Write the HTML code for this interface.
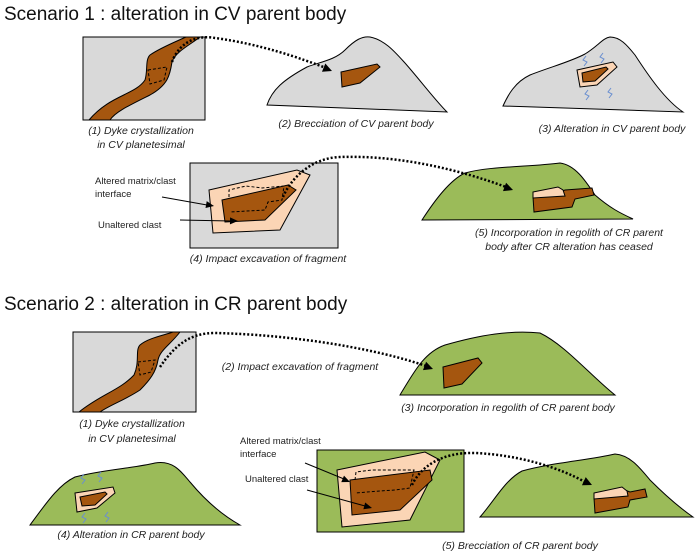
<!DOCTYPE html>
<html><head><meta charset="utf-8"><style>
html,body{margin:0;padding:0;background:#fff;}
svg{display:block;}
text{font-family:"Liberation Sans",sans-serif;}
.cap{font-style:italic;font-size:10.5px;fill:#222;}
.lab{font-size:9.5px;fill:#222;}
.t{font-size:19px;fill:#111;}
</style></head><body>
<svg width="698" height="555" viewBox="0 0 698 555" xmlns="http://www.w3.org/2000/svg">
<g stroke="#000" stroke-width="1">
<!-- Scenario 1 -->
<text class="t" x="4" y="20" stroke="none">Scenario 1 : alteration in CV parent body</text>
<rect x="83" y="37" width="122" height="83" fill="#d9d9d9"/>
<path d="M89,120 C110,95 135,95 145,80 C148,70 145,60 150,55 C160,48 175,42 186,37 L200,37 C190,45 175,52 172,62 C170,75 168,85 150,95 C130,105 115,112 110,120 Z" fill="#a5560f"/>
<path d="M148,70 L167,67 L164,80 L150,84 Z" fill="none" stroke-dasharray="3,2"/>
<path d="M267,105 C272,90 283,80 307,67 C320,62 335,60 345,50 C355,40 362,36 370,37 C385,40 395,52 405,63 C420,80 435,100 447,112 Z" fill="#d9d9d9"/>
<path d="M341,72 L377,64 L380,67 L360,83 L342,87 Z" fill="#a5560f"/>
<path d="M503,106 C508,95 515,82 530,75 C550,67 570,62 585,54 C598,46 603,38 610,37 C620,37 627,45 635,55 C648,75 665,100 683,112 Z" fill="#d9d9d9"/>
<path d="M577,70 L613,62 L617,67 L597,85 L580,87 Z" fill="#fbd5b5"/>
<path d="M582,73 L606,67 L608,69 L595,81 L583,82 Z" fill="#a5560f"/>
<rect x="190" y="163" width="148" height="85" fill="#d9d9d9"/>
<path d="M209,190 L297,170 L310,175 L280,230 L213,233 Z" fill="#fbd5b5"/>
<path d="M222,200 L288,185 L296,190 L265,220 L225,222 Z" fill="#a5560f"/>
<path d="M229,197 L229,190 L246,186 L262,188 L284,186 L282,200 L268,202 L265,210 L230,212" fill="none" stroke-dasharray="3,2"/>
<line x1="162" y1="197" x2="207" y2="205"/>
<path d="M0,0 L-8,-3.5 L-8,3.5Z" fill="#000" stroke="none" transform="translate(214,206) rotate(10)"/>
<line x1="180" y1="220" x2="231" y2="221"/>
<path d="M0,0 L-8,-3.5 L-8,3.5Z" fill="#000" stroke="none" transform="translate(238,221) rotate(1)"/>
<path d="M422,220 C435,200 450,180 465,173 C490,166 530,167 560,163 C575,165 585,180 595,195 C610,208 620,213 633,219 Z" fill="#9bbb59"/>
<path d="M533,197 L560,192 L565,190 L592,188 L594,195 L575,199 L572,207 L534,212 Z" fill="#a5560f"/>
<path d="M533,192 L558,187 L563,190 L565,196 L533,198 Z" fill="#fbd5b5"/>
<!-- Scenario 2 -->
<text class="t" x="4" y="310" stroke="none">Scenario 2 : alteration in CR parent body</text>
<rect x="73" y="332" width="123" height="80" fill="#d9d9d9"/>
<path d="M79,412 C100,395 120,390 134,375 C140,362 135,350 140,345 C148,338 165,335 173,332 L180,332 C170,345 160,350 158,360 C156,372 150,380 140,390 C125,400 110,405 100,412 Z" fill="#a5560f"/>
<path d="M138,362 L155,360 L151,372 L140,375 Z" fill="none" stroke-dasharray="3,2"/>
<path d="M400,395 C415,370 425,352 445,345 C480,335 510,330 540,333 C565,345 590,375 615,395 Z" fill="#9bbb59"/>
<path d="M443,367 L478,358 L482,363 L462,384 L444,388 Z" fill="#a5560f"/>
<path d="M30,525 C45,505 58,485 75,477 C100,470 135,468 155,463 C172,460 180,470 190,482 C205,500 222,515 240,525 Z" fill="#9bbb59"/>
<path d="M75,493 L113,487 L115,493 L97,508 L77,512 Z" fill="#fbd5b5"/>
<path d="M80,497 L105,492 L107,494 L95,505 L82,506 Z" fill="#a5560f"/>
<rect x="317" y="450" width="147" height="82" fill="#9bbb59"/>
<path d="M337,470 L425,452 L440,460 L410,520 L342,527 Z" fill="#fbd5b5"/>
<path d="M350,480 L430,470 L432,480 L400,510 L352,515 Z" fill="#a5560f"/>
<path d="M355,480 L356,472 L372,470 L392,470 L414,470 L410,488 L395,490 L380,491 L355,493" fill="none" stroke-dasharray="3,2"/>
<line x1="305" y1="463" x2="344" y2="479"/>
<path d="M0,0 L-8,-3.5 L-8,3.5Z" fill="#000" stroke="none" transform="translate(350,482) rotate(23)"/>
<line x1="307" y1="490" x2="365" y2="506"/>
<path d="M0,0 L-8,-3.5 L-8,3.5Z" fill="#000" stroke="none" transform="translate(372,508) rotate(15)"/>
<path d="M480,517 C495,500 505,480 522,471 C550,463 590,460 615,454 C630,455 640,468 650,480 C665,495 680,508 693,517 Z" fill="#9bbb59"/>
<path d="M594,498 L625,490 L630,492 L645,489 L647,497 L630,500 L628,507 L595,513 Z" fill="#a5560f"/>
<path d="M594,493 L622,487 L627,491 L628,496 L594,499 Z" fill="#fbd5b5"/>
<!-- dotted connectors on top -->
<path d="M172,62 C180,40 200,35 215,38 C260,44 300,58 326,68" fill="none" stroke-width="2.5" stroke-dasharray="2,2"/>
<path d="M0,0 L-9,-4.5 L-9,4.5Z" fill="#000" stroke="none" transform="translate(332,71) rotate(22)"/>
<path d="M283,197 C290,180 310,158 340,157 C400,155 460,170 506,187" fill="none" stroke-width="2.5" stroke-dasharray="2,2"/>
<path d="M0,0 L-9,-4.5 L-9,4.5Z" fill="#000" stroke="none" transform="translate(513,190) rotate(20)"/>
<path d="M160,367 C175,345 190,333 215,333 C300,335 380,350 426,366" fill="none" stroke-width="2.5" stroke-dasharray="2,2"/>
<path d="M0,0 L-9,-4.5 L-9,4.5Z" fill="#000" stroke="none" transform="translate(433,369) rotate(20)"/>
<path d="M412,485 C420,468 440,452 475,453 C520,455 560,468 585,482" fill="none" stroke-width="2.5" stroke-dasharray="2,2"/>
<path d="M0,0 L-9,-4.5 L-9,4.5Z" fill="#000" stroke="none" transform="translate(592,485) rotate(25)"/>
</g>
<g fill="none" stroke="#6a8fd0" stroke-width="1">
<path d="M586,56 l-3,4 l4,2 l-3,4"/><path d="M603,53 l-3,4 l4,2 l-3,4"/>
<path d="M588,90 l-3,4 l4,2 l-3,4"/><path d="M611,88 l-3,4 l4,2 l-3,4"/>
<path d="M84,474 l-3,4 l4,2 l-3,4"/><path d="M101,472 l-3,4 l4,2 l-3,4"/>
<path d="M85,513 l-3,4 l4,2 l-3,4"/><path d="M108,512 l-3,4 l4,2 l-3,4"/>
</g>
<g class="cap">
<text x="141" y="134" text-anchor="middle">(1) Dyke crystallization</text>
<text x="141" y="148" text-anchor="middle">in CV planetesimal</text>
<text x="356" y="127" text-anchor="middle">(2) Brecciation of CV parent body</text>
<text x="612" y="132" text-anchor="middle">(3) Alteration in CV parent body</text>
<text x="268" y="262" text-anchor="middle">(4) Impact excavation of fragment</text>
<text x="569" y="236" text-anchor="middle">(5) Incorporation in regolith of CR parent</text>
<text x="569" y="250" text-anchor="middle">body after CR alteration has ceased</text>
<text x="132" y="427" text-anchor="middle">(1) Dyke crystallization</text>
<text x="132" y="442" text-anchor="middle">in CV planetesimal</text>
<text x="300" y="370" text-anchor="middle">(2) Impact excavation of fragment</text>
<text x="508" y="411" text-anchor="middle">(3) Incorporation in regolith of CR parent body</text>
<text x="131" y="538" text-anchor="middle">(4) Alteration in CR parent body</text>
<text x="520" y="549" text-anchor="middle">(5) Brecciation of CR parent body</text>
</g>
<g class="lab">
<text x="95" y="184">Altered matrix/clast</text>
<text x="95" y="197">interface</text>
<text x="98" y="228">Unaltered clast</text>
<text x="240" y="444">Altered matrix/clast</text>
<text x="240" y="457">interface</text>
<text x="245" y="482">Unaltered clast</text>
</g>
</svg>
</body></html>
